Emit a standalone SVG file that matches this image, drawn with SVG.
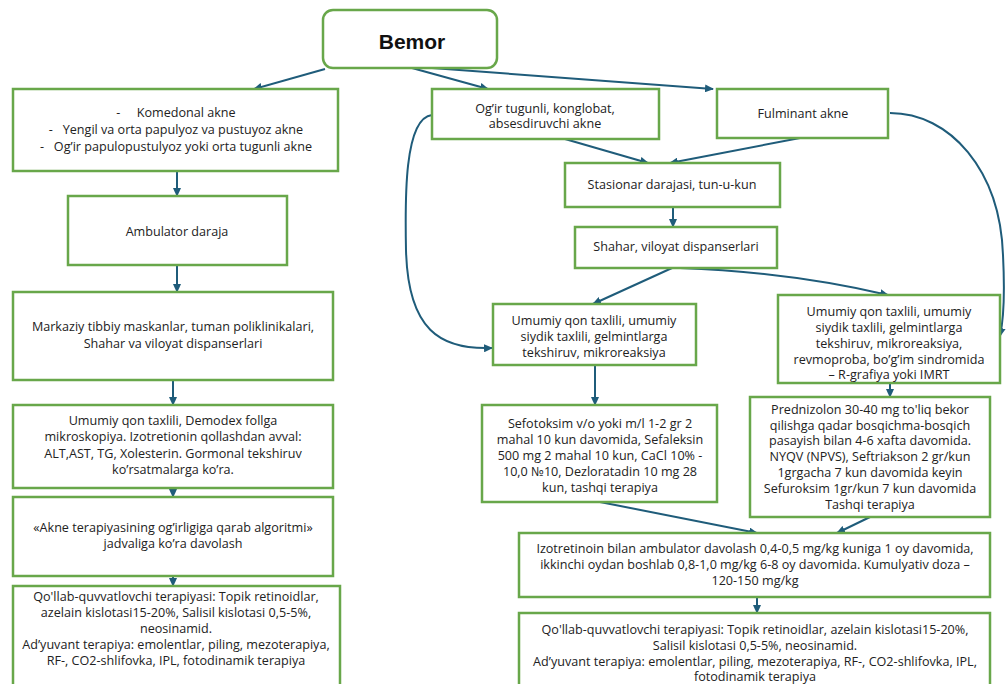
<svg xmlns="http://www.w3.org/2000/svg" width="1006" height="684" viewBox="0 0 1006 684">
<style>
.box{fill:#fff;stroke:#68a74a;stroke-width:2.5}
.t{font-family:"Open Sans","Liberation Sans",Arial,sans-serif;font-size:12.6px;fill:#222;text-anchor:middle}
.c{stroke:#1f5c7a;stroke-width:2;fill:none;marker-end:url(#ah)}
</style>
<defs>
<marker id="ah" markerUnits="userSpaceOnUse" markerWidth="9" markerHeight="8" refX="8" refY="4" orient="auto">
<path d="M0,0 L9,4 L0,8 z" fill="#1f5c7a"/>
</marker>
</defs>
<rect width="1006" height="684" fill="#fff"/>

<g id="connectors">
<path class="c" d="M325,69 L254,89"/>
<path class="c" d="M412,68 L488,89"/>
<path class="c" d="M432,68 L713,89"/>
<path class="c" d="M177,171 L177,196"/>
<path class="c" d="M177,265 L177,292"/>
<path class="c" d="M173,380 L173,405"/>
<path class="c" d="M173,488 L173,497"/>
<path class="c" d="M173,576 L173,586"/>
<path class="c" d="M565,139 L648,163"/>
<path class="c" d="M800,138 L670,163"/>
<path class="c" d="M673,207 L673,227"/>
<path class="c" d="M672,268 L593,304"/>
<path class="c" d="M680,268 Q790,272 888,295"/>
<path class="c" d="M595,365 L595,405"/>
<path class="c" d="M890,383 L890,397"/>
<path class="c" d="M600,502 L757,533"/>
<path class="c" d="M870,517 L837,533"/>
<path class="c" d="M757,597 L757,613"/>
<path class="c" d="M432,115 C404,118 405,200 406,250 C408,330 440,350 492,348"/>
<path class="c" d="M890,113 C950,113 1000,170 1003,255 C1005,295 1004,318 1000,336"/>
</g>

<g id="bemor">
<rect class="box" x="323" y="10" width="174" height="58" rx="10"/>
<text x="412" y="49" style="font-family:'Liberation Sans',Arial,sans-serif;font-size:21px;font-weight:bold;fill:#111;text-anchor:middle">Bemor</text>
</g>

<g id="n-komedonal">
<rect class="box" x="13" y="89" width="325" height="82"/>
<text class="t" xml:space="preserve"><tspan x="176" y="117">-     Komedonal akne</tspan><tspan x="176" y="134">-   Yengil va orta papulyoz va pustuyoz akne</tspan><tspan x="176" y="151">-   Og’ir papulopustulyoz yoki orta tugunli akne</tspan></text>
</g>

<g id="n-ambulator">
<rect class="box" x="68" y="196" width="219" height="69"/>
<text class="t" x="177" y="236">Ambulator daraja</text>
</g>

<g id="n-markaziy">
<rect class="box" x="13" y="292" width="320" height="88"/>
<text class="t"><tspan x="173" y="331">Markaziy tibbiy maskanlar, tuman poliklinikalari,</tspan><tspan x="173" y="348">Shahar va viloyat dispanserlari</tspan></text>
</g>

<g id="n-demodex">
<rect class="box" x="13" y="405" width="320" height="83"/>
<text class="t"><tspan x="173" y="425">Umumiy qon taxlili, Demodex follga</tspan><tspan x="173" y="441">mikroskopiya. Izotretionin qollashdan avval:</tspan><tspan x="173" y="458">ALT,AST, TG, Xolesterin. Gormonal tekshiruv</tspan><tspan x="173" y="474">ko’rsatmalarga ko’ra.</tspan></text>
</g>

<g id="n-akne">
<rect class="box" x="13" y="497" width="320" height="79"/>
<text class="t"><tspan x="173" y="532">«Akne terapiyasining og’irligiga qarab algoritmi»</tspan><tspan x="173" y="548">jadvaliga ko’ra davolash</tspan></text>
</g>

<g id="n-qollab-left">
<rect class="box" x="13" y="586" width="327" height="100"/>
<text class="t"><tspan x="176" y="601">Qo'llab-quvvatlovchi terapiyasi: Topik retinoidlar,</tspan><tspan x="176" y="617">azelain kislotasi15-20%, Salisil kislotasi 0,5-5%,</tspan><tspan x="176" y="633">neosinamid.</tspan><tspan x="176" y="649">Ad’yuvant terapiya: emolentlar, piling, mezoterapiya,</tspan><tspan x="176" y="665">RF-, CO2-shlifovka, IPL, fotodinamik terapiya</tspan></text>
</g>

<g id="n-ogir">
<rect class="box" x="432" y="89" width="227" height="50"/>
<text class="t"><tspan x="545" y="113">Og’ir tugunli, konglobat,</tspan><tspan x="545" y="128">absesdiruvchi akne</tspan></text>
</g>

<g id="n-fulminant">
<rect class="box" x="717" y="89" width="171" height="49"/>
<text class="t" x="803" y="118">Fulminant akne</text>
</g>

<g id="n-stasionar">
<rect class="box" x="565" y="163" width="215" height="44"/>
<text class="t" x="672" y="189">Stasionar darajasi, tun-u-kun</text>
</g>

<g id="n-shahar">
<rect class="box" x="575" y="227" width="202" height="41"/>
<text class="t" x="676" y="251">Shahar, viloyat dispanserlari</text>
</g>

<g id="n-umumiy-left">
<rect class="box" x="493" y="304" width="203" height="61"/>
<text class="t"><tspan x="594" y="325">Umumiy qon taxlili, umumiy</tspan><tspan x="594" y="341">siydik taxlili, gelmintlarga</tspan><tspan x="594" y="357">tekshiruv, mikroreaksiya</tspan></text>
</g>

<g id="n-umumiy-right">
<rect class="box" x="778" y="295" width="222" height="88"/>
<text class="t"><tspan x="889" y="316">Umumiy qon taxlili, umumiy</tspan><tspan x="889" y="332">siydik taxlili, gelmintlarga</tspan><tspan x="889" y="348">tekshiruv, mikroreaksiya,</tspan><tspan x="889" y="364">revmoproba, bo’g’im sindromida</tspan><tspan x="889" y="379">– R-grafiya yoki IMRT</tspan></text>
</g>

<g id="n-sefotoksim">
<rect class="box" x="482" y="405" width="235" height="97"/>
<text class="t"><tspan x="600" y="428">Sefotoksim v/o yoki m/l 1-2 gr  2</tspan><tspan x="600" y="444">mahal 10 kun davomida, Sefaleksin</tspan><tspan x="600" y="460">500 mg 2 mahal 10 kun, CaCl 10% -</tspan><tspan x="600" y="476">10,0 №10, Dezloratadin 10 mg  28</tspan><tspan x="600" y="492">kun, tashqi terapiya</tspan></text>
</g>

<g id="n-prednizolon">
<rect class="box" x="750" y="397" width="240" height="120"/>
<text class="t"><tspan x="870" y="414">Prednizolon 30-40 mg  to'liq bekor</tspan><tspan x="870" y="430">qilishga qadar bosqichma-bosqich</tspan><tspan x="870" y="445">pasayish bilan 4-6 xafta davomida.</tspan><tspan x="870" y="461">NYQV (NPVS), Seftriakson 2 gr/kun</tspan><tspan x="870" y="477">1grgacha 7 kun davomida keyin</tspan><tspan x="870" y="493">Sefuroksim 1gr/kun 7 kun davomida</tspan><tspan x="870" y="509">Tashqi terapiya</tspan></text>
</g>

<g id="n-izotretinoin">
<rect class="box" x="519" y="533" width="471" height="64"/>
<text class="t"><tspan x="755" y="553">Izotretinoin bilan ambulator davolash 0,4-0,5 mg/kg kuniga 1 oy davomida,</tspan><tspan x="755" y="569">ikkinchi oydan boshlab 0,8-1,0 mg/kg 6-8 oy davomida. Kumulyativ doza –</tspan><tspan x="755" y="585">120-150 mg/kg</tspan></text>
</g>

<g id="n-qollab-right">
<rect class="box" x="519" y="613" width="471" height="73"/>
<text class="t"><tspan x="755" y="634">Qo'llab-quvvatlovchi terapiyasi: Topik retinoidlar, azelain kislotasi15-20%,</tspan><tspan x="755" y="650">Salisil kislotasi 0,5-5%, neosinamid.</tspan><tspan x="755" y="666">Ad’yuvant terapiya: emolentlar, piling, mezoterapiya, RF-, CO2-shlifovka, IPL,</tspan><tspan x="755" y="681">fotodinamik terapiya</tspan></text>
</g>
</svg>
